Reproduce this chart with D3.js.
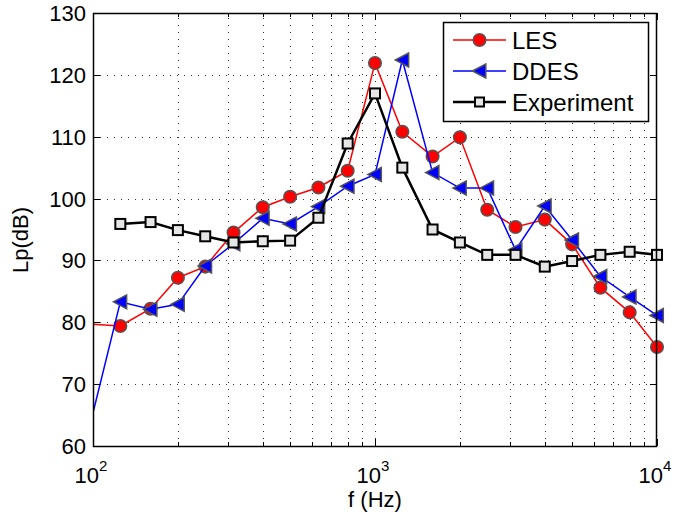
<!DOCTYPE html>
<html>
<head>
<meta charset="utf-8">
<script src="https://cdn.jsdelivr.net/npm/d3@7"></script>
<style>
  body { margin: 0; background: #fff; }
  text { font-family: "Liberation Sans", Arial, Helvetica, sans-serif; fill: #000; }
</style>
</head>
<body>
<div id="chart"></div>
<script>
// 1/3 octave band centre frequencies (first one lies left of the axis and is clipped)
let freqs = [80, 125, 160, 200, 250, 315, 400, 500, 630, 800, 1000, 1250, 1600, 2000, 2500, 3150, 4000, 5000, 6300, 8000, 10000];
let lesValues = [80.0, 79.4, 82.2, 87.2, 89.0, 94.5, 98.6, 100.3, 101.8, 104.5, 121.9, 110.8, 106.8, 109.9, 98.2, 95.4, 96.6, 92.6, 85.6, 81.6, 76.0];
let ddesValues = [47.4, 83.3, 82.1, 82.9, 89.1, 92.7, 96.8, 95.9, 98.7, 102.0, 103.9, 122.4, 104.2, 101.7, 101.7, 91.7, 98.8, 93.3, 87.4, 84.1, 81.1];
let expFreqs = [125, 160, 200, 250, 315, 400, 500, 630, 800, 1000, 1250, 1600, 2000, 2500, 3150, 4000, 5000, 6300, 8000, 10000];
let expValues = [95.9, 96.2, 94.9, 93.9, 92.9, 93.1, 93.2, 96.9, 108.9, 117.0, 105.0, 95.0, 92.9, 90.9, 90.9, 89.0, 89.9, 90.9, 91.4, 90.9];
let yTicks = [60, 70, 80, 90, 100, 110, 120, 130];
let xMajor = [100, 1000, 10000];
let xExponents = ["2", "3", "4"];

let width = 675, height = 515;
let margin = {left: 93, right: 18, top: 13, bottom: 69};

let svg = d3.select("#chart")
    .append("svg")
    .attr("width", width)
    .attr("height", height);

// Scales
let x = d3.scaleLog()
    .domain([100, 10000])
    .range([margin.left, width - margin.right]);
let y = d3.scaleLinear()
    .domain([60, 130])
    .range([height - margin.bottom, margin.top]);

let x0 = x.range()[0], x1 = x.range()[1];
let y0 = y.range()[0], y1 = y.range()[1];

// minor log ticks: 200..900, 2000..9000
let xMinor = [];
[100, 1000].forEach(function(dec) {
    for (let k = 2; k <= 9; k++) xMinor.push(dec * k);
});

svg.append("defs").append("clipPath")
    .attr("id", "plotClip")
    .append("rect")
    .attr("x", x0).attr("y", y1)
    .attr("width", x1 - x0).attr("height", y0 - y1);

// Dotted grid
let grid = svg.append("g")
    .attr("stroke", "#333")
    .attr("stroke-width", 1)
    .attr("stroke-dasharray", "1,6");
grid.selectAll(".vgrid")
    .data(xMinor.concat([1000]))
    .enter().append("line")
    .attr("x1", function(d) { return Math.round(x(d)) + 0.5; })
    .attr("x2", function(d) { return Math.round(x(d)) + 0.5; })
    .attr("y1", y0).attr("y2", y1);
grid.selectAll(".hgrid")
    .data(yTicks.slice(1, -1))
    .enter().append("line")
    .attr("x1", x0).attr("x2", x1)
    .attr("y1", function(d) { return Math.round(y(d)) + 0.5; })
    .attr("y2", function(d) { return Math.round(y(d)) + 0.5; });

// Ticks (inward, on all four sides)
let ticks = svg.append("g").attr("stroke", "#000").attr("stroke-width", 1);
xMajor.concat(xMinor).forEach(function(f) {
    let len = xMajor.indexOf(f) >= 0 ? 7 : 4;
    let px = Math.round(x(f)) + 0.5;
    ticks.append("line").attr("x1", px).attr("x2", px).attr("y1", y0).attr("y2", y0 - len);
    ticks.append("line").attr("x1", px).attr("x2", px).attr("y1", y1).attr("y2", y1 + len);
});
yTicks.forEach(function(v) {
    let py = Math.round(y(v)) + 0.5;
    ticks.append("line").attr("x1", x0).attr("x2", x0 + 7).attr("y1", py).attr("y2", py);
    ticks.append("line").attr("x1", x1).attr("x2", x1 - 7).attr("y1", py).attr("y2", py);
});

// Series: lines are clipped to the axes, markers are not
let line = d3.line()
    .x(function(d) { return x(d[0]); })
    .y(function(d) { return y(d[1]); });

let lesData = d3.zip(freqs, lesValues);
let ddesData = d3.zip(freqs, ddesValues);
let expData = d3.zip(expFreqs, expValues);

let triangle = function(r) {
    return `M${-r},0L${r * 0.9},${-r}L${r * 0.9},${r}Z`;
};
let inRange = function(d) { return d[0] >= 100; };

let series = [
    {name: "LES", data: lesData, color: "#ff0000", lw: 1.5},
    {name: "DDES", data: ddesData, color: "#0000ff", lw: 1.5},
    {name: "Experiment", data: expData, color: "#000", lw: 2.5}
];

function drawMarker(g, name, cx, cy, small) {
    if (name === "LES") {
        g.append("circle").attr("cx", cx).attr("cy", cy).attr("r", 6.3)
            .attr("fill", "#ff0000").attr("stroke", "#555").attr("stroke-width", 1.5);
    } else if (name === "DDES") {
        g.append("path").attr("d", triangle(7))
            .attr("transform", `translate(${cx},${cy})`)
            .attr("fill", "#0000ff").attr("stroke", "#555").attr("stroke-width", 1.5);
    } else {
        let s = small ? 9 : 10;
        g.append("rect").attr("x", cx - s / 2).attr("y", cy - s / 2)
            .attr("width", s).attr("height", s)
            .attr("fill", "#e6e6e6").attr("stroke", "#000").attr("stroke-width", 2);
    }
}

series.forEach(function(s) {
    let g = svg.append("g");
    g.append("path").datum(s.data)
        .attr("clip-path", "url(#plotClip)")
        .attr("d", line).attr("fill", "none")
        .attr("stroke", s.color).attr("stroke-width", s.lw);
    s.data.filter(inRange).forEach(function(d) {
        drawMarker(g, s.name, x(d[0]), y(d[1]), false);
    });
});

// Axes box
svg.append("rect")
    .attr("x", x0 + 0.5).attr("y", y1 + 0.5)
    .attr("width", x1 - x0 - 1).attr("height", y0 - y1)
    .attr("fill", "none").attr("stroke", "#000").attr("stroke-width", 1.5);

// Y tick labels
svg.selectAll(".ylabel").data(yTicks).enter().append("text")
    .attr("x", x0 - 7)
    .attr("y", function(d) { return y(d) + 8; })
    .style("text-anchor", "end")
    .style("font-size", "22px")
    .text(function(d) { return d; });

// X tick labels 10^n
xMajor.forEach(function(f, i) {
    let t = svg.append("text")
        .attr("x", x(f) - 2)
        .attr("y", 483)
        .style("text-anchor", "middle")
        .style("font-size", "22px");
    t.append("tspan").text("10");
    t.append("tspan").attr("dy", -12).style("font-size", "15px").text(xExponents[i]);
});

// Axis titles
svg.append("text")
    .attr("x", (x0 + x1) / 2)
    .attr("y", 507)
    .style("text-anchor", "middle")
    .style("font-size", "22px")
    .text("f (Hz)");
svg.append("text")
    .attr("transform", `translate(28, 240) rotate(-90)`)
    .style("text-anchor", "middle")
    .style("font-size", "22px")
    .text("Lp(dB)");

// Legend
let legend = svg.append("g");
legend.append("rect")
    .attr("x", 443.5).attr("y", 22.5)
    .attr("width", 205).attr("height", 99)
    .attr("fill", "#fff").attr("stroke", "#000").attr("stroke-width", 1.5);
let legendY = [40, 71, 102];
series.forEach(function(s, i) {
    let g = legend.append("g");
    let ly = legendY[i];
    g.append("line")
        .attr("x1", 453).attr("x2", 506).attr("y1", ly).attr("y2", ly)
        .attr("stroke", s.color).attr("stroke-width", s.lw);
    drawMarker(g, s.name, 479.5, ly, true);
    g.append("text")
        .attr("x", 512).attr("y", ly + 8.5)
        .style("font-size", "24px")
        .text(s.name);
});
</script>
</body>
</html>
